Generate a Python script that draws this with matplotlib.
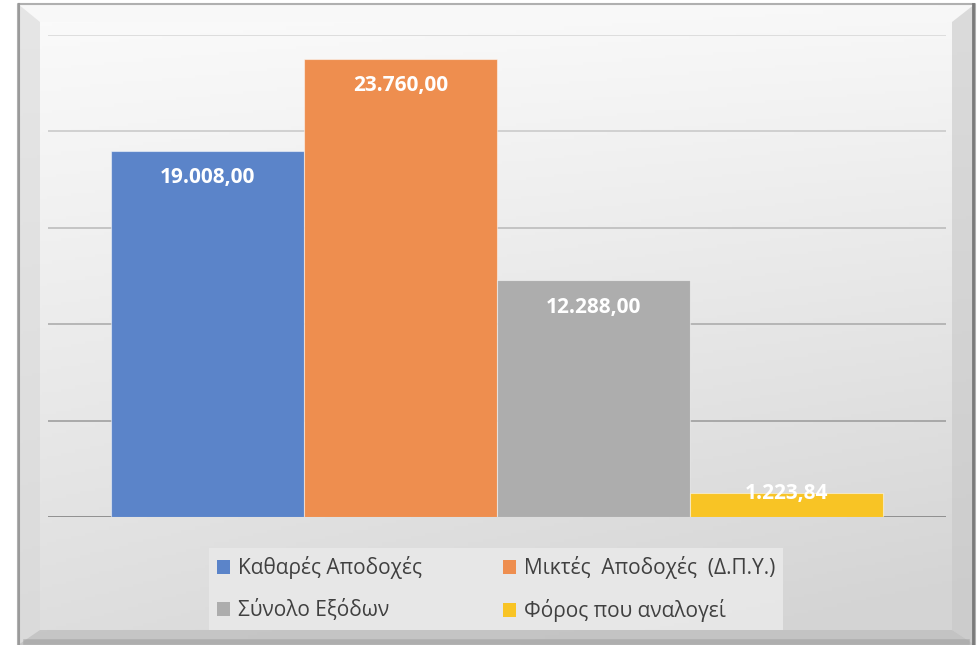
import numpy as np
import matplotlib
matplotlib.use("Agg")
import matplotlib.pyplot as plt
from matplotlib.patches import Patch, Polygon
from matplotlib.colors import to_rgb

plt.rcParams['font.family'] = ['Open Sans', 'Noto Sans', 'DejaVu Sans']

# ---- data ----
series = ["Καθαρές Αποδοχές", "Μικτές  Αποδοχές  (Δ.Π.Υ.)", "Σύνολο Εξόδων", "Φόρος που αναλογεί"]
values = [19008.00, 23760.00, 12288.00, 1223.84]
value_labels = ["19.008,00", "23.760,00", "12.288,00", "1.223,84"]
colors = ["#5b84c9", "#ee8e4f", "#adadad", "#f8c425"]
y_max = 25000
y_step = 5000

W, H = 980, 645
fig = plt.figure(figsize=(W / 100, H / 100), dpi=100)

# ---- background frame ----
bg = fig.add_axes([0, 0, 1, 1], zorder=-10)
bg.set_xlim(0, W)
bg.set_ylim(H, 0)
bg.axis("off")
fx0, fx1, fy0, fy1 = 18, 975, 4, 645
yy = np.linspace(0, 1, 200)[:, None]
xx = np.linspace(0, 1, 200)[None, :]
top = np.array(to_rgb("#fbfbfb"))
bot = np.array(to_rgb("#d4d4d4"))
t = np.clip(0.75 * yy + 0.25 * xx * yy + 0.08 * xx, 0, 1)
img = top[None, None, :] * (1 - t[..., None]) + bot[None, None, :] * t[..., None]
bg.imshow(img, extent=[fx0, fx1, fy1, fy0], aspect="auto", zorder=0)
# bevels
ix0, ix1, iy0, iy1 = 40, 952, 22, 630
bg.add_patch(Polygon([[fx0, fy0], [fx1, fy0], [ix1, iy0], [ix0, iy0]], closed=True,
                     facecolor="#f8f8f8", edgecolor="none", alpha=0.8, zorder=1))
bg.add_patch(Polygon([[fx0, fy0], [ix0, iy0], [ix0, iy1], [fx0, fy1]], closed=True,
                     facecolor="#d8d8d8", edgecolor="none", alpha=0.6, zorder=1))
bg.add_patch(Polygon([[fx1, fy0], [fx1, fy1], [ix1, iy1], [ix1, iy0]], closed=True,
                     facecolor="#c8c8c8", edgecolor="none", alpha=0.6, zorder=1))
bg.add_patch(Polygon([[fx0, fy1], [ix0, iy1], [ix1, iy1], [fx1, fy1]], closed=True,
                     facecolor="#bcbcbc", edgecolor="none", alpha=0.7, zorder=1))
bg.plot([fx0 + 8, fx1 - 8], [fy1 - 3, fy1 - 3], color="#a0a0a0", lw=4, alpha=0.6, zorder=2)
bg.plot([fx0, fx0, fx1, fx1], [fy1, fy0, fy0, fy1], color="#b0b0b0", lw=1.5, zorder=2)
bg.plot([fx1 - 2, fx1 - 2], [fy0, fy1], color="#7a7a7a", lw=2, zorder=2)
bg.plot([fx0 + 1, fx0 + 1], [fy0, fy1], color="#9a9a9a", lw=1.5, zorder=2)

# ---- main axes ----
L, R, T, B = 48, 946, 35, 517
ax = fig.add_axes([L / W, (H - B) / H, (R - L) / W, (B - T) / H])
ax.set_facecolor("none")
for s in ax.spines.values():
    s.set_visible(False)

x = np.arange(len(values))
bar_w = 1.0
pad = 0.326
ax.set_xlim(-0.5 - pad, len(values) - 0.5 + pad)
ax.set_ylim(0, y_max)
ax.set_xticks([])
ax.set_yticks([])

# gridlines
grid_vals = np.arange(0, y_max + 1, y_step)
c_top = np.array(to_rgb("#d6d6d6"))
c_bot = np.array(to_rgb("#8a8a8a"))
for g in grid_vals:
    f = 1 - g / y_max
    col = c_top * (1 - f) + c_bot * f
    ax.axhline(g, color=col, lw=1.3 if g == 0 else 1.1, zorder=0)

bars = ax.bar(x, values, width=bar_w, color=colors, edgecolor=(1, 1, 1, 0.5), linewidth=0.8, zorder=2)

px_per_unit = (B - T) / y_max
for xi, v, lab in zip(x, values, value_labels):
    h_px = v * px_per_unit
    off = -27 if h_px > 60 else 0
    ax.annotate(lab, (xi, v), xytext=(0, off * 0.72), textcoords="offset points",
                ha="center", va="center", color="white", fontsize=15, fontweight="bold", zorder=3)

# ---- legend ----
handles = [Patch(facecolor=c, edgecolor="none") for c in colors]
order = [0, 2, 1, 3]
leg = fig.legend([handles[i] for i in order], [series[i] for i in order], ncol=2,
                 loc="center", bbox_to_anchor=((210 + 782) / 2 / W, 1 - (546 + 632) / 2 / H),
                 frameon=True, fontsize=15, handlelength=0.65, handleheight=0.65, handletextpad=0.35,
                 columnspacing=3.9, labelspacing=0.95, borderpad=0.4, fancybox=False)
leg.get_frame().set_facecolor("#e9e9e9")
leg.get_frame().set_edgecolor("none")
leg.get_frame().set_alpha(0.9)
for txt in leg.get_texts():
    txt.set_color("#404040")

fig.savefig("out.png", dpi=100)
